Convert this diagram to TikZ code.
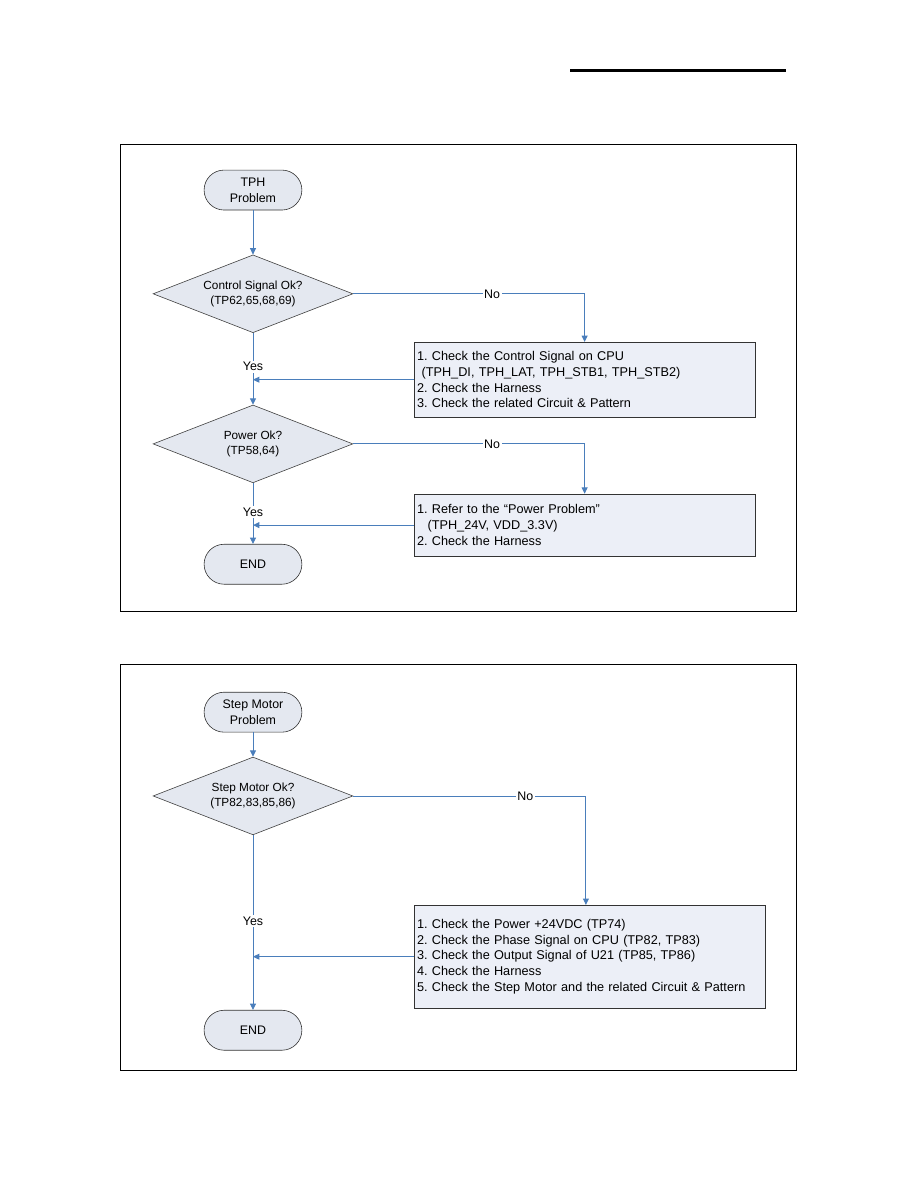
\documentclass[tikz,border=0pt]{standalone}
\usepackage{fontspec}
\setmainfont{Liberation Sans}
\usepackage{xcolor}
\usetikzlibrary{positioning,arrows.meta,shapes.geometric,calc}
\definecolor{flowblue}{HTML}{4A7EBB}
\definecolor{nodefill}{HTML}{E4E8F0}
\definecolor{boxfill}{HTML}{ECEFF7}
\frenchspacing

\begin{document}
\begin{tikzpicture}[
  font=\fontsize{8.3}{10.4}\selectfont,
  term/.style={draw=black!80, fill=nodefill, rounded corners=0.47cm, minimum width=2.3cm, minimum height=0.94cm, align=center, inner sep=1pt},
  dec/.style={draw=black!75, fill=nodefill, diamond, aspect=2.57, minimum width=4.7cm, minimum height=1.83cm, align=center, inner sep=0pt, font=\fontsize{7.9}{10.2}\selectfont},
  chk/.style={draw=black!80, fill=boxfill, minimum width=8.02cm, text width=7.88cm, align=left, inner sep=2pt, font=\fontsize{8.5}{10.5}\selectfont},
  flow/.style={-{Triangle[length=1.5mm,width=1.4mm]}, draw=flowblue, line width=0.6pt},
  lbl/.style={fill=white, inner sep=1pt},
  frame/.style={draw=black, line width=0.5pt}
]
\useasboundingbox (0,0) rectangle (21.59,27.94);

% page rule and frames
\draw[line width=2pt] (13.41,26.29) -- (18.49,26.29);
\draw[frame] (2.82,24.55) rectangle (18.72,13.55);
\draw[frame] (2.82,12.32) rectangle (18.72,2.77);

% TPH problem
\node[term] (tph)  at (5.95,23.47) {TPH\\Problem};
\node[dec]  (sig)  at (5.95,21.03) {Control Signal Ok?\\(TP62,65,68,69)};
\node[chk, minimum height=1.76cm] (chksig) at (13.75,19.01)
  {1. Check the Control Signal on CPU\\
   \hspace*{3pt}(TPH\_DI, TPH\_LAT, TPH\_STB1, TPH\_STB2)\\
   2. Check the Harness\\
   3. Check the related Circuit \& Pattern};
\node[dec]  (pwr)  at (5.95,17.50) {Power Ok?\\(TP58,64)};
\node[chk, minimum height=1.46cm] (chkpwr) at (13.75,15.59)
  {1. Refer to the “Power Problem”\\
   \hspace*{7pt}(TPH\_24V, VDD\_3.3V)\\
   2. Check the Harness};
\node[term] (endA) at (5.95,14.67) {END};

\draw[flow] (tph) -- (sig);
\draw[flow] (sig.east) -| (chksig.north) node[lbl,pos=0.3]{No};
\draw[flow] (chksig.west) -- (chksig.west -| sig.south);
\draw[flow] (sig) -- (pwr) node[lbl,pos=0.47]{Yes};
\draw[flow] (pwr.east) -| (chkpwr.north) node[lbl,pos=0.3]{No};
\draw[flow] (chkpwr.west) -- (chkpwr.west -| pwr.south);
\draw[flow] (pwr) -- (endA) node[lbl,pos=0.48]{Yes};

% Step motor problem
\node[term] (smp)  at (5.95,11.19) {Step Motor\\Problem};
\node[dec]  (smok) at (5.95,9.22) {Step Motor Ok?\\(TP82,83,85,86)};
\node[chk, minimum width=8.26cm, text width=8.12cm, minimum height=2.42cm] (chksm) at (13.87,5.44)
  {1. Check the Power +24VDC (TP74)\\
   2. Check the Phase Signal on CPU (TP82, TP83)\\
   3. Check the Output Signal of U21 (TP85, TP86)\\
   4. Check the Harness\\
   5. Check the Step Motor and the related Circuit \& Pattern};
\node[term] (endB) at (5.95,3.71) {END};

\draw[flow] (smp) -- (smok);
\draw[flow] (smok.east) -| ($(chksm.north)+(-0.09,0)$) node[lbl,pos=0.37]{No};
\draw[flow] (chksm.west) -- (chksm.west -| smok.south);
\draw[flow] (smok) -- (endB) node[lbl,pos=0.49]{Yes};
\end{tikzpicture}
\end{document}
